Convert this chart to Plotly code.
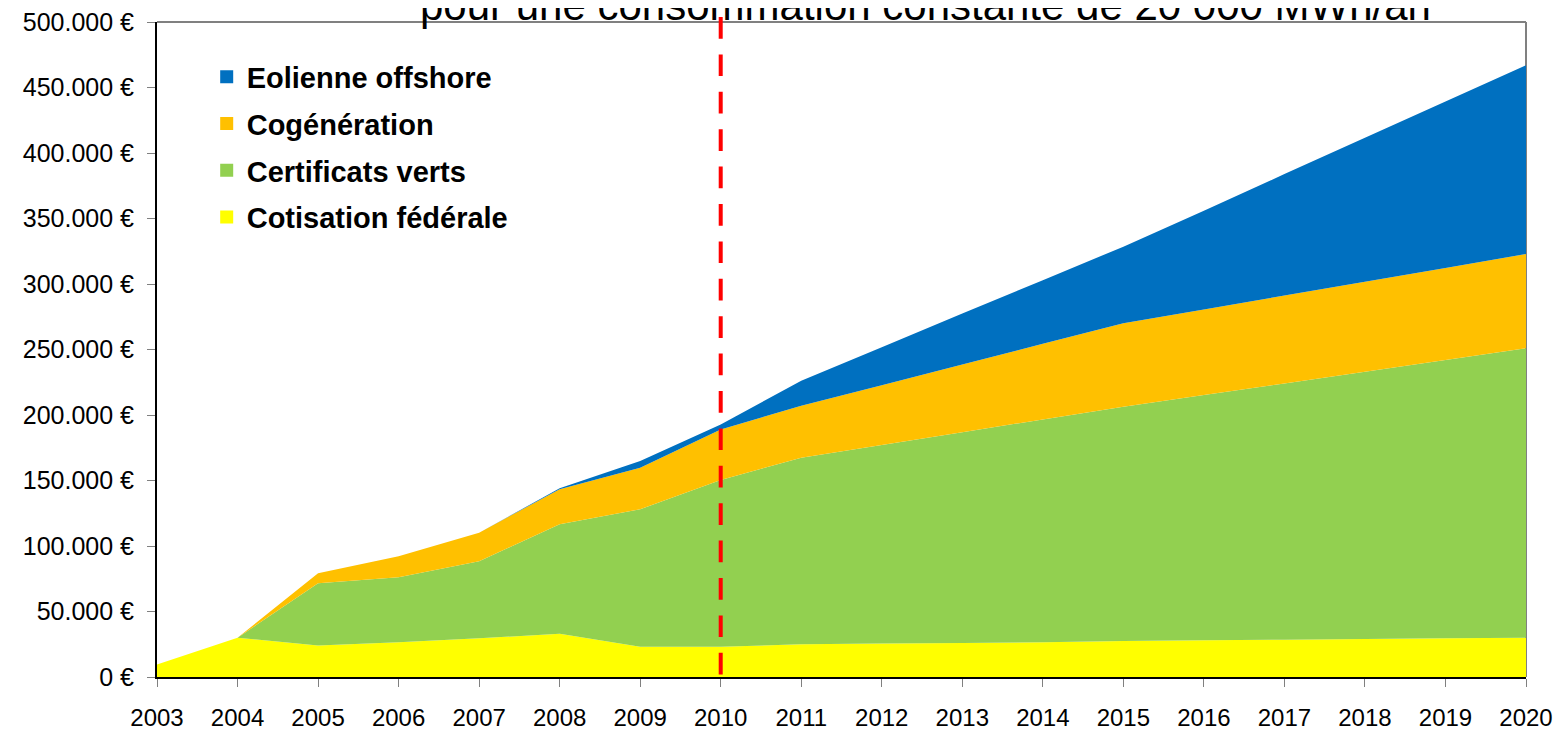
import plotly.graph_objects as go

years = list(range(2003, 2021))

# stacked contributions, in EUR
cotisation = [9500, 30000, 24000, 26500, 29500, 33000, 23000, 23000, 25000,
              25500, 26000, 26500, 27500, 28000, 28500, 29000, 29500, 30000]
certificats = [0, 0, 47500, 49600, 58800, 83600, 105000, 127400, 142400,
               151600, 160900, 170100, 178800, 187200, 195600, 204100, 212500, 220900]
cogeneration = [0, 0, 7700, 16000, 21900, 26700, 31800, 38600, 39700,
                45700, 51700, 57700, 63700, 65400, 67100, 68600, 70300, 72000]
eolien = [0, 0, 0, 0, 0, 700, 5100, 3800, 19100,
          29000, 38800, 48600, 58500, 75400, 92700, 109900, 127000, 144100]

series = [
    ("Cotisation fédérale", cotisation, "#FFFF00"),
    ("Certificats verts", certificats, "#92D050"),
    ("Cogénération", cogeneration, "#FFC000"),
    ("Eolienne offshore", eolien, "#0070C0"),
]
legend_order = ["Eolienne offshore", "Cogénération", "Certificats verts", "Cotisation fédérale"]

y_ticks = list(range(0, 500001, 50000))
y_labels = ["0 €"] + [f"{v // 1000}.000 €" for v in y_ticks[1:]]

title_text = "pour une consommation constante de 20 000 MWh/an"
split_year = 2010

fig = go.Figure()
for name, vals, color in series:
    fig.add_trace(go.Scatter(x=years, y=vals, stackgroup="one", mode="none",
                             fillcolor=color, name=name, showlegend=False,
                             hoverinfo="x+y+name"))

colors = {n: c for n, _, c in series}
for i, name in enumerate(legend_order):
    fig.add_trace(go.Scatter(x=[None], y=[None], mode="markers", name=name,
                             legendgroup=str(i),
                             marker=dict(symbol="square", size=13, color=colors[name])))

fig.add_shape(type="line", xref="x", yref="paper", x0=split_year, x1=split_year,
              y0=1.0076, y1=0, line=dict(color="#FF0000", width=4, dash="21.7px,15.7px"))
# top and right frame in grey
fig.add_shape(type="line", xref="paper", yref="paper", x0=0, x1=1, y0=1, y1=1,
              line=dict(color="#808080", width=2), layer="below")
fig.add_shape(type="line", xref="paper", yref="paper", x0=1, x1=1, y0=0, y1=1,
              line=dict(color="#808080", width=2), layer="below")

fig.add_annotation(text=title_text, xref="paper", yref="paper", x=0.561, y=1,
                   xanchor="center", yanchor="bottom", yshift=-9, showarrow=False,
                   font=dict(family="Liberation Sans, Arial", size=42, color="black"))

# page body has an 8px margin, so margins are offset to put the plot where the reference has it
fig.update_layout(
    width=1562, height=730,
    margin=dict(l=149, r=44, t=14, b=61, autoexpand=False),
    paper_bgcolor="white", plot_bgcolor="white",
    font=dict(family="Liberation Sans, Arial", color="black"),
    legend=dict(x=0.0363, y=0.955, xanchor="left", yanchor="top",
                bgcolor="rgba(0,0,0,0)", tracegroupgap=6,
                font=dict(family="Liberation Sans, Arial", size=29, weight="bold")),
    xaxis=dict(range=[2003, 2020], tickmode="array", tickvals=years,
               ticktext=[str(y) for y in years], showgrid=False, zeroline=False,
               showline=True, linecolor="black", linewidth=2, automargin=False,
               ticks="outside", ticklen=8, tickcolor="#808080", ticklabelstandoff=10,
               ticklabeloverflow="allow",
               tickfont=dict(family="Liberation Sans, Arial", size=24)),
    yaxis=dict(range=[0, 500000], tickmode="array", tickvals=y_ticks, ticktext=y_labels,
               showgrid=False, zeroline=False, showline=True, linecolor="black", linewidth=2,
               automargin=False, ticklabeloverflow="allow",
               ticks="outside", ticklen=8, tickcolor="#808080", ticklabelstandoff=8,
               tickfont=dict(family="Liberation Sans, Arial", size=25)),
)

fig.write_html("out.html")
